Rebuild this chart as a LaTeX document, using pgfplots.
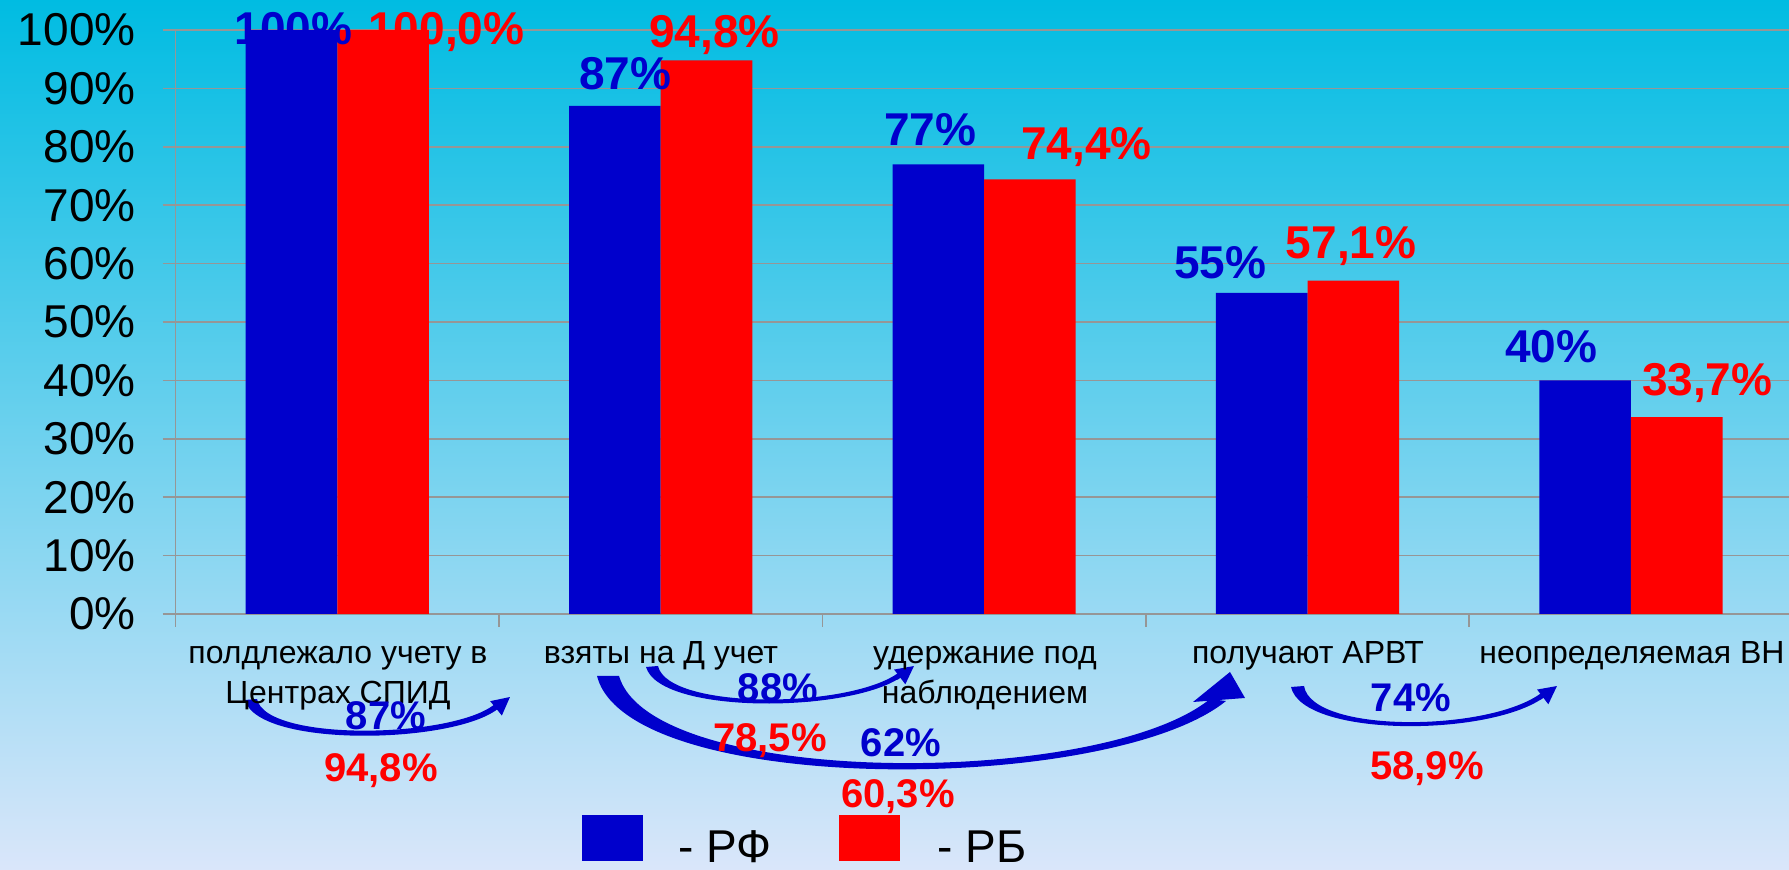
\documentclass[border=0pt]{standalone}
\usepackage{fontspec}
\setmainfont{Liberation Sans}
\usepackage{pgfplots}
\pgfplotsset{compat=1.18}
\usetikzlibrary{arrows.meta}
\definecolor{rfblue}{RGB}{0,0,204}
\definecolor{rbred}{RGB}{255,0,0}
\definecolor{gridgray}{RGB}{150,150,150}
\definecolor{bgtop}{RGB}{0,188,226}
\definecolor{bgmid}{RGB}{115,205,235}
\definecolor{bgbot}{RGB}{218,230,250}
\begin{document}
\begin{tikzpicture}
\shade[top color=bgtop, middle color=bgmid, bottom color=bgbot] (0,0) rectangle (894.5pt,435pt);
\begin{axis}[
  at={(87.8pt,128pt)}, anchor=south west,
  scale only axis, width=808.5pt, height=292pt,
  xmin=-0.5, xmax=4.5, ymin=0, ymax=100,
  ybar=0pt, bar width=45.8pt,
  axis x line*=bottom, axis y line*=left,
  axis line style={gridgray, line width=0.8pt, -},
  ytick={0,10,...,100},
  yticklabels={0\%,10\%,20\%,30\%,40\%,50\%,60\%,70\%,80\%,90\%,100\%},
  yticklabel style={font=\fontsize{23}{27}\selectfont, anchor=east, xshift=-10pt},
  xtick={-0.5,0.5,1.5,2.5,3.5,4.5}, xticklabels={},
  ymajorgrids, grid style={gridgray, line width=0.8pt},
  tick align=outside, major tick length=6.5pt,
  tick style={gridgray, line width=0.8pt},
  clip=false,
]
\addplot[fill=rfblue, draw=none] coordinates {(0,100) (1,87) (2,77) (3,55) (4,40)};
\addplot[fill=rbred, draw=none] coordinates {(0,100) (1,94.8) (2,74.4) (3,57.1) (4,33.7)};
\begin{scope}[every node/.style={anchor=base, font=\bfseries\fontsize{23}{27}\selectfont}]
\node[text=rfblue] at (axis cs:-0.136,97.5) {100\%};
\node[text=rfblue] at (axis cs:0.891,89.8) {87\%};
\node[text=rfblue] at (axis cs:1.834,80.2) {77\%};
\node[text=rfblue] at (axis cs:2.730,57.4) {55\%};
\node[text=rfblue] at (axis cs:3.754,43.1) {40\%};
\node[text=rbred] at (axis cs:0.337,97.5) {100,0\%};
\node[text=rbred] at (axis cs:1.166,97.0) {94,8\%};
\node[text=rbred] at (axis cs:2.316,77.8) {74,4\%};
\node[text=rbred] at (axis cs:3.135,60.9) {57,1\%};
\node[text=rbred] at (axis cs:4.236,37.4) {33,7\%};
\end{scope}
\end{axis}
\begin{scope}[x=0.5pt, y=-0.5pt, shift={(0pt,435pt)}]
% arrow 1
\fill[rfblue] (245,700) .. controls (258,750) and (470,744) .. (503,704) -- (499,700) .. controls (468,738) and (266,744) .. (257,699) -- cycle;
\draw[rfblue, line width=1pt, -{Triangle[length=9pt,width=9pt]}] (494,710) -- (510,697);
% arrow 2
\fill[rfblue] (646,667) .. controls (660,716) and (860,713) .. (905,674) -- (902,670) .. controls (858,709) and (668,711) .. (658,666) -- cycle;
\draw[rfblue, line width=1pt, -{Triangle[length=9pt,width=9pt]}] (897,679) -- (914,666);
% arrow 4
\fill[rfblue] (1291,687) .. controls (1303,739) and (1500,737) .. (1548,694) -- (1545,690) .. controls (1498,732) and (1312,735) .. (1304,686) -- cycle;
\draw[rfblue, line width=1pt, -{Triangle[length=9pt,width=9pt]}] (1540,699) -- (1557,686);
% big arrow
\fill[rfblue] (597,676) .. controls (628,797) and (1110,795) .. (1226,701) -- (1210,699) .. controls (1100,788) and (652,788) .. (619,676) -- cycle;
\fill[rfblue] (1193,702) -- (1230,672) -- (1245,698) -- cycle;
% category labels
\begin{scope}[every node/.style={anchor=base, font=\fontsize{16}{19}\selectfont}]
\node at (338,664) {полдлежало учету в};
\node at (338,704) {Центрах СПИД};
\node at (661,664) {взяты на Д учет};
\node at (985,664) {удержание под};
\node at (985,704) {наблюдением};
\node at (1308,664) {получают АРВТ};
\node at (1632,664) {неопределяемая ВН};
\end{scope}
% transition percentages
\begin{scope}[every node/.style={anchor=base, font=\bfseries\fontsize{20}{24}\selectfont}]
\node[text=rfblue] at (386,730) {87\%};
\node[text=rbred] at (381,782) {94,8\%};
\node[text=rfblue] at (778,702) {88\%};
\node[text=rbred] at (770,752) {78,5\%};
\node[text=rfblue] at (901,757) {62\%};
\node[text=rbred] at (898,808) {60,3\%};
\node[text=rfblue] at (1411,712) {74\%};
\node[text=rbred] at (1427,780) {58,9\%};
\end{scope}
% legend
\fill[rfblue] (582,815) rectangle (643,861);
\node[anchor=base west, inner sep=0pt, font=\fontsize{23}{27}\selectfont] at (678,863) {- РФ};
\fill[rbred] (839,815) rectangle (900,861);
\node[anchor=base west, inner sep=0pt, font=\fontsize{23}{27}\selectfont] at (937,863) {- РБ};
\end{scope}
\pgfresetboundingbox
\useasboundingbox (0,0) rectangle (894.5pt,435pt);
\end{tikzpicture}
\end{document}
